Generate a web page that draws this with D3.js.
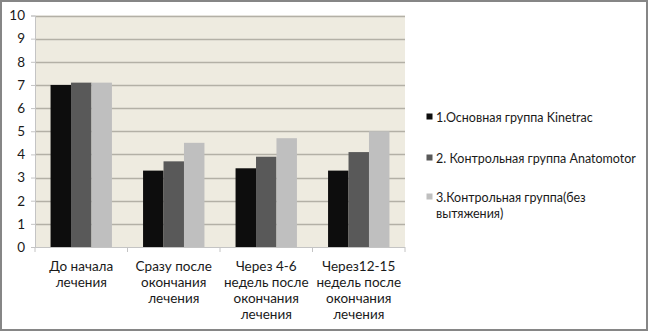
<!DOCTYPE html>
<html><head><meta charset="utf-8">
<script src="https://cdn.jsdelivr.net/npm/d3@7"></script>
<style>body{margin:0;background:#fff}svg{display:block}text{font-family:Lato,"Open Sans",sans-serif}</style>
</head><body>
<script>
const categories = [["До начала","лечения"],["Сразу после","окончания","лечения"],["Через 4-6","недель после","окончания","лечения"],["Через12-15","недель после","окончания","лечения"]];
const seriesNames = [["1.Основная группа Kinetrac"],["2. Контрольная группа Anatomotor"],["3.Контрольная группа(без","вытяжения)"]];
const series1 = [7.0,3.3,3.4,3.3];
const series2 = [7.1,3.7,3.9,4.1];
const series3 = [7.1,4.5,4.7,5.0];
const yTicks = [0,1,2,3,4,5,6,7,8,9,10];
const colors = ["#0d0d0d","#595959","#bfbfbf"];

const W=648,H=331;
const svg=d3.select("body").append("svg").attr("width",W).attr("height",H);
svg.append("rect").attr("x",1).attr("y",1).attr("width",W-2).attr("height",H-2).attr("fill","#fff").attr("stroke","#868686").attr("stroke-width",2);

const pL=35,pR=405,pT=15.5,pB=247;
const x=d3.scaleBand().domain(d3.range(categories.length)).range([pL,pR]).paddingInner(0).paddingOuter(0);
const xi=d3.scaleBand().domain([0,1,2]).range([0,x.bandwidth()]).paddingOuter(0.76).paddingInner(0);
const y=d3.scaleLinear().domain([0,10]).range([pB,pT]);

svg.append("rect").attr("x",pL).attr("y",pT).attr("width",pR-pL).attr("height",pB-pT).attr("fill","#eeebe0");
svg.append("g").selectAll("line").data(yTicks.filter(d=>d>0)).join("line")
 .attr("x1",pL).attr("x2",pR).attr("y1",d=>Math.round(y(d))+0.5).attr("y2",d=>Math.round(y(d))+0.5)
 .attr("stroke","#b3b0a6").attr("stroke-width",1.5);

const data=[series1,series2,series3];
data.forEach((s,si)=>{
 svg.append("g").selectAll("rect").data(s).join("rect")
  .attr("x",(d,i)=>x(i)+xi(si)).attr("width",xi.bandwidth())
  .attr("y",d=>y(d)).attr("height",d=>pB-y(d)).attr("fill",colors[si]);
});

const yAxis=svg.append("g").attr("transform",`translate(${pL},0)`).call(d3.axisLeft(y).tickValues(yTicks).tickSize(4).tickPadding(6));
yAxis.select(".domain").attr("stroke","#c4c4c4");
yAxis.selectAll(".tick line").attr("stroke","#c4c4c4");
yAxis.selectAll("text").attr("font-size",13.5).attr("fill","#1a1a1a");

const xAxis=svg.append("g").attr("transform",`translate(0,${pB})`);
xAxis.append("line").attr("x1",pL-4).attr("x2",pR).attr("y1",0.5).attr("y2",0.5).attr("stroke","#c4c4c4");
xAxis.selectAll(".t").data(d3.range(categories.length+1)).join("line").attr("class","t")
 .attr("x1",d=>pL+d*x.bandwidth()).attr("x2",d=>pL+d*x.bandwidth()).attr("y1",0).attr("y2",5).attr("stroke","#c4c4c4");
categories.forEach((c,i)=>{
 const t=svg.append("text").attr("x",x(i)+x.bandwidth()/2).attr("y",271).attr("text-anchor","middle").attr("font-size",13.5).attr("fill","#1a1a1a");
 c.forEach((ln,j)=>t.append("tspan").attr("x",x(i)+x.bandwidth()/2).attr("dy",j?16:0).text(ln));
});

const legY=[117,158,197];
seriesNames.forEach((n,i)=>{
 svg.append("rect").attr("x",426.5).attr("y",legY[i]-3.5).attr("width",6).attr("height",6).attr("fill",colors[i]);
 const t=svg.append("text").attr("x",436).attr("y",legY[i]+4.5).attr("font-size",12.5).attr("fill","#1a1a1a");
 n.forEach((ln,j)=>t.append("tspan").attr("x",436).attr("dy",j?16:0).text(ln));
});
</script>
</body></html>
